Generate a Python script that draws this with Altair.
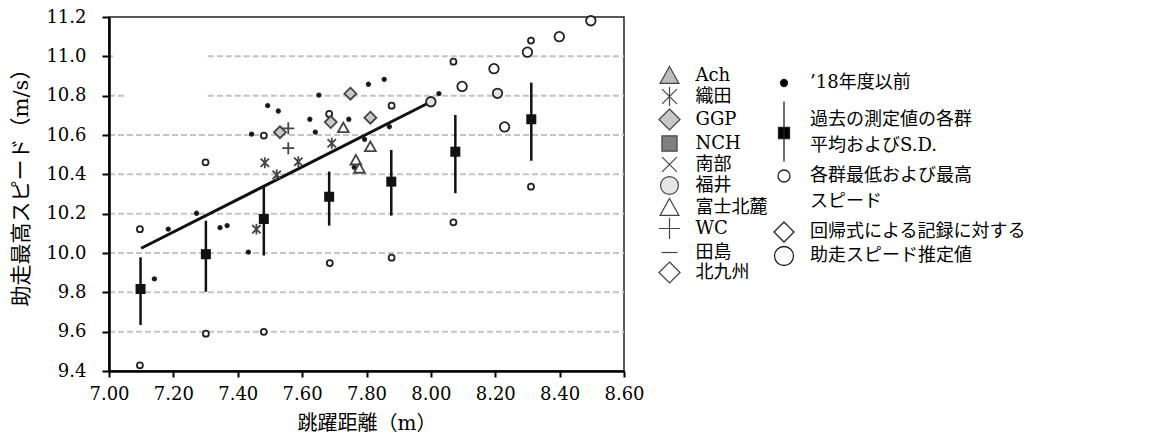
import re
import altair as alt
import pandas as pd

FONT = "DejaVu Serif, Noto Sans CJK JP"

# ---- data ----
x_ticks = [7.0, 7.2, 7.4, 7.6, 7.8, 8.0, 8.2, 8.4, 8.6]
y_ticks = [9.4, 9.6, 9.8, 10.0, 10.2, 10.4, 10.6, 10.8, 11.0, 11.2]

# '18年度以前 (small black dots)
dot_x = [7.141, 7.184, 7.272, 7.345, 7.367, 7.433, 7.443, 7.493, 7.526, 7.624,
         7.641, 7.652, 7.745, 7.762, 7.794, 7.806, 7.855, 7.871, 8.025]
dot_y = [9.868, 10.121, 10.202, 10.129, 10.139, 10.004, 10.604, 10.749, 10.722, 10.680,
         10.614, 10.803, 10.680, 10.436, 10.578, 10.858, 10.883, 10.642, 10.810]

# group mean and S.D.
mean_x = [7.098, 7.301, 7.481, 7.684, 7.877, 8.076, 8.312]
mean_y = [9.817, 9.994, 10.173, 10.286, 10.363, 10.515, 10.680]
sd_lo = [9.634, 9.803, 9.987, 10.139, 10.190, 10.304, 10.469]
sd_hi = [9.978, 10.164, 10.342, 10.414, 10.524, 10.702, 10.866]

# group minimum / maximum speed
mm_x = [7.096, 7.096, 7.300, 7.301, 7.481, 7.481, 7.684, 7.686, 7.878, 7.878, 8.070, 8.070, 8.311, 8.311]
mm_y = [10.121, 9.429, 10.461, 9.590, 10.597, 9.599, 10.707, 9.949, 10.749, 9.976, 10.973, 10.156, 11.080, 10.337]

# run-up speed estimated from regression
est_x = [8.000, 8.097, 8.196, 8.207, 8.229, 8.300, 8.399, 8.497]
est_y = [10.769, 10.847, 10.937, 10.812, 10.641, 11.021, 11.100, 11.181]
est_gray = [True, False, False, True, False, False, False, False]

# competition groups
grp_name = ["GGP", "GGP", "GGP", "GGP", "WC", "WC",
            "織田", "織田", "織田", "織田", "織田",
            "富士北麓", "富士北麓", "富士北麓", "富士北麓"]
grp_x = [7.531, 7.689, 7.750, 7.812, 7.557, 7.557,
         7.458, 7.484, 7.521, 7.588, 7.692,
         7.728, 7.812, 7.767, 7.778]
grp_y = [10.614, 10.666, 10.810, 10.688, 10.634, 10.533,
         10.121, 10.459, 10.397, 10.464, 10.558,
         10.637, 10.541, 10.473, 10.431]

# regression line end points
reg_x = [7.10, 8.00]
reg_y = [10.024, 10.769]

# dashed grid segments
grid_y = [9.6, 9.8, 10.0, 10.2, 10.4, 10.6, 10.8, 10.8, 11.0, 11.0]
grid_x0 = [7.0, 7.0, 7.0, 7.0, 7.0, 7.0, 7.0, 7.307, 7.0, 7.307]
grid_x1 = [8.6, 8.6, 8.6, 8.6, 8.6, 8.6, 7.05, 8.6, 7.013, 8.6]

groups = ["Ach", "織田", "GGP", "NCH", "南部", "福井", "富士北麓", "WC", "田島", "北九州"]
kinds = ["’18年度以前", "過去の測定値の各群|平均およびS.D.", "各群最低および最高|スピード",
         "回帰式による記録に対する", "助走スピード推定値"]


def circ(r):
    return f"M{r},0A{r},{r} 0 1 1 -{r},0A{r},{r} 0 1 1 {r},0Z"


K = 1.09  # enlarge group glyphs inside their symbol box


def scaled(p):
    return re.sub(r"-?\d+\.?\d*", lambda m: f"{float(m.group()) * K:.3f}", p)


grp_paths = [
    scaled("M0,-0.85L0.9,0.75L-0.9,0.75Z"),
    scaled("M-0.7,-0.7L0.7,0.7M-0.7,0.7L0.7,-0.7M0,-0.9L0,0.9"),
    scaled("M0,-1L1,0L0,1L-1,0Z"),
    scaled("M-0.72,-0.72H0.72V0.72H-0.72Z"),
    scaled("M-0.7,-0.7L0.7,0.7M-0.7,0.7L0.7,-0.7"),
    circ(round(0.85 * K, 3)),
    scaled("M0,-0.85L0.9,0.75L-0.9,0.75Z"),
    scaled("M-1,0H1M0,-1V1"),
    scaled("M-0.75,0H0.75"),
    scaled("M0,-1L1,0L0,1L-1,0Z"),
]
grp_fill = ["#bdbdbd", "transparent", "#c8c8c8", "#808080", "transparent",
            "#e6e6e6", "white", "transparent", "transparent", "white"]
grp_stroke = ["#444"] * 10

kind_paths = [
    circ(0.35),
    "M0,-3.25M0,-1.85V4.15M-0.55,0.75H0.55V1.85H-0.55Z",
    circ(0.6),
    "M0,-2.6M0,-1L1,0L0,1L-1,0Z",
    "M0,-1.55" + circ(0.95),
]
kind_fill = ["black", "black", "white", "white", "white"]
kind_stroke = ["#222"] * 5

# ---- tables ----
df_grid = pd.DataFrame({"y": grid_y, "x0": grid_x0, "x1": grid_x1})
df_reg = pd.DataFrame({"x": reg_x, "y": reg_y})
df_sd = pd.DataFrame({"x": mean_x, "m": mean_y, "lo": sd_lo, "hi": sd_hi})
df_kind = pd.concat([
    pd.DataFrame({"x": dot_x, "y": dot_y, "kind": kinds[0]}),
    pd.DataFrame({"x": mm_x, "y": mm_y, "kind": kinds[2]}),
    pd.DataFrame({"x": [a for a, g in zip(est_x, est_gray) if not g],
                  "y": [b for b, g in zip(est_y, est_gray) if not g], "kind": kinds[4]}),
], ignore_index=True)
df_gray = pd.DataFrame({"x": [a for a, g in zip(est_x, est_gray) if g],
                        "y": [b for b, g in zip(est_y, est_gray) if g]})
df_grp = pd.DataFrame({"x": grp_x, "y": grp_y, "group": grp_name})

xs = alt.Scale(domain=[7.0, 8.6], nice=False, zero=False)
ys = alt.Scale(domain=[9.4, 11.2], nice=False, zero=False)
xaxis = alt.Axis(values=x_ticks, format=".2f", title="跳躍距離（m）", grid=False,
                 tickSize=6, labelPadding=8, labelFlush=False,
                 titleY=52, titleBaseline="middle", zindex=1)
yaxis = alt.Axis(values=y_ticks, format=".1f", title="助走最高スピード（m/s）", grid=False,
                 tickSize=7, labelPadding=16, labelFlush=False,
                 titleX=-88, titleY=165, titleAngle=-90, titleFontSize=21,
                 titleBaseline="middle", titleAlign="center", zindex=1)


def X(f):
    return alt.X(f, type="quantitative", scale=xs, axis=xaxis)


def Y(f):
    return alt.Y(f, type="quantitative", scale=ys, axis=yaxis)


grid = alt.Chart(df_grid).mark_rule(color="#c4c4c4", strokeWidth=2, strokeDash=[6, 3]).encode(
    x=X("x0"), x2="x1", y=Y("y"))

reg = alt.Chart(df_reg).mark_line(color="#111", strokeWidth=3).encode(x=X("x"), y=Y("y"))

sd = alt.Chart(df_sd).mark_rule(color="#111", strokeWidth=2.5).encode(x=X("x"), y=Y("lo"), y2="hi")
means = alt.Chart(df_sd).mark_point(shape="square", filled=True, size=100, color="#111", opacity=1).encode(
    x=X("x"), y=Y("m"))

leg2 = alt.Legend(title=None, orient="none", legendX=664, legendY=55, symbolSize=400,
                  symbolStrokeWidth=1.3, labelFontSize=18, labelFont=FONT, labelColor="black",
                  labelOffset=15, rowPadding=-8, padding=0, labelLimit=500,
                  labelExpr="split(datum.label, '|')")
kind_pts = alt.Chart(df_kind).mark_point(size=100, strokeWidth=1.8, opacity=1).encode(
    x=X("x"), y=Y("y"),
    shape=alt.Shape("kind:N", scale=alt.Scale(domain=kinds, range=kind_paths), legend=leg2),
    fill=alt.Fill("kind:N", scale=alt.Scale(domain=kinds, range=kind_fill), legend=leg2),
    stroke=alt.Stroke("kind:N", scale=alt.Scale(domain=kinds, range=kind_stroke), legend=leg2),
)
gray_pts = alt.Chart(df_gray).mark_point(shape=circ(0.95), size=100, strokeWidth=1.8, opacity=1,
                                         fill="#e2e2e2", stroke="#222").encode(x=X("x"), y=Y("y"))

leg1 = alt.Legend(title=None, orient="none", legendX=550, legendY=48, symbolSize=372,
                  symbolStrokeWidth=1.2, labelFontSize=18, labelFont=FONT, labelColor="black",
                  labelOffset=15.5, rowPadding=-6, padding=0, labelLimit=500)
grp_pts = alt.Chart(df_grp).mark_point(size=121, strokeWidth=1.8, opacity=1).encode(
    x=X("x"), y=Y("y"),
    shape=alt.Shape("group:N", scale=alt.Scale(domain=groups, range=grp_paths), legend=leg1),
    fill=alt.Fill("group:N", scale=alt.Scale(domain=groups, range=grp_fill), legend=leg1),
    stroke=alt.Stroke("group:N", scale=alt.Scale(domain=groups, range=grp_stroke), legend=leg1),
)

chart = alt.layer(grid, sd, reg, means, kind_pts, gray_pts, grp_pts).resolve_scale(
    shape="independent", fill="independent", stroke="independent"
).properties(
    width=515, height=354,
    autosize=alt.AutoSizeParams(type="none"),
    padding={"left": 101, "top": 9, "right": 529, "bottom": 69},
).configure(
    style={"guide-label": {"lineHeight": 26}}
).configure_view(stroke="#222", strokeWidth=1.5).configure_axis(
    domainColor="black", domainWidth=2.5, tickColor="black", tickWidth=2,
    labelFont=FONT, labelFontSize=18, labelColor="black",
    titleFont=FONT, titleFontSize=20, titleFontWeight="normal", titleColor="black",
)

chart.save("out.html", embed_options={"renderer": "svg", "actions": False})
